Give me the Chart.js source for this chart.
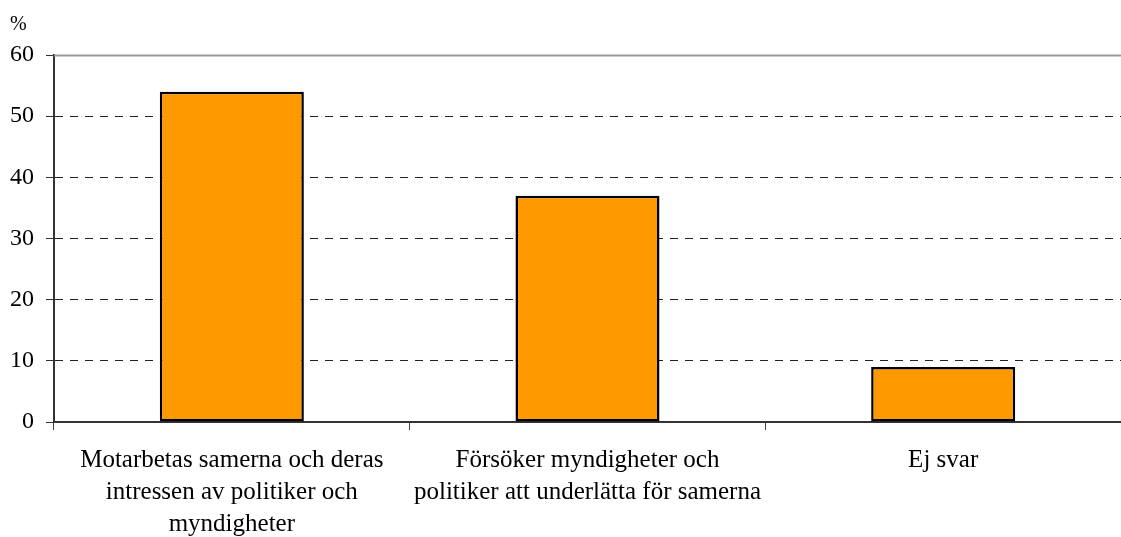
<!DOCTYPE html>
<html>
<head>
<meta charset="utf-8">
<script src="https://cdn.jsdelivr.net/npm/chart.js@4"></script>
<style>
	html, body { margin: 0; padding: 0; background: #fff; }
	#wrap { width: 1121px; height: 537px; position: relative; }
</style>
</head>
<body>
<div id="wrap"><canvas id="chart"></canvas></div>
<script>
const categories = [
	["Motarbetas samerna och deras", "intressen av politiker och", "myndigheter"],
	["Försöker myndigheter och", "politiker att underlätta för samerna"],
	["Ej svar"],
];
const values = [54, 37, 9];
const unitLabel = "%";
const yMin = 0;
const yMax = 60;
const yStep = 10;

const fontFamily = "'Liberation Serif', 'Times New Roman', serif";

// solid grey line on top of the plot, the rest of the grid is dashed
const topLine = {
	id: "topLine",
	afterDatasetsDraw(chart) {
		const ctx = chart.ctx;
		const area = chart.chartArea;
		const y = Math.round(chart.scales.y.getPixelForValue(yMax)) + 0.5;
		ctx.save();
		ctx.strokeStyle = "#999999";
		ctx.lineWidth = 2;
		ctx.beginPath();
		ctx.moveTo(area.left, y);
		ctx.lineTo(area.right, y);
		ctx.stroke();
		ctx.restore();
	},
};

const chartEl = document.getElementById("chart");

const graph = new Chart(chartEl, {
	type: "bar",
	data: {
		labels: categories,
		datasets: [
			{
				data: values,
				backgroundColor: "#FF9900",
				borderColor: "#000000",
				borderWidth: 2.5,
				borderSkipped: false,
				barPercentage: 0.405,
				categoryPercentage: 1,
			},
		],
	},
	options: {
		responsive: true,
		maintainAspectRatio: false,
		animation: false,
		layout: {
			padding: { left: 10, right: 0, top: 0, bottom: 0 },
		},
		plugins: {
			legend: { display: false },
			tooltip: { enabled: false },
			title: {
				display: true,
				text: unitLabel,
				align: "start",
				color: "#000",
				font: { family: fontFamily, size: 20, weight: "normal", lineHeight: 1.2 },
				padding: { top: 13, bottom: 18 },
			},
		},
		scales: {
			x: {
				offset: true,
				grid: {
					offset: true,
					drawOnChartArea: false,
					drawTicks: true,
					tickLength: 8,
					tickColor: "#444",
					tickBorderDash: [],
				},
				border: { display: true, color: "#333", width: 2 },
				ticks: {
					color: "#000",
					padding: 14,
					maxRotation: 0,
					autoSkip: false,
					font: { family: fontFamily, size: 25, lineHeight: 1.28 },
				},
				afterFit(scale) {
					scale.height = 115;
				},
			},
			y: {
				min: yMin,
				max: yMax,
				ticks: {
					stepSize: yStep,
					color: "#000",
					padding: 12,
					font: { family: fontFamily, size: 24 },
				},
				grid: {
					color: (c) => (c.tick && c.tick.value === yMax ? "rgba(0,0,0,0)" : "#222"),
					lineWidth: 1,
					tickLength: 8,
					tickColor: "#333",
					tickBorderDash: [],
				},
				border: { display: true, color: "#333", width: 2, dash: [8, 7] },
				afterFit(scale) {
					scale.width = 44;
				},
			},
		},
	},
	plugins: [topLine],
});
</script>
</body>
</html>
